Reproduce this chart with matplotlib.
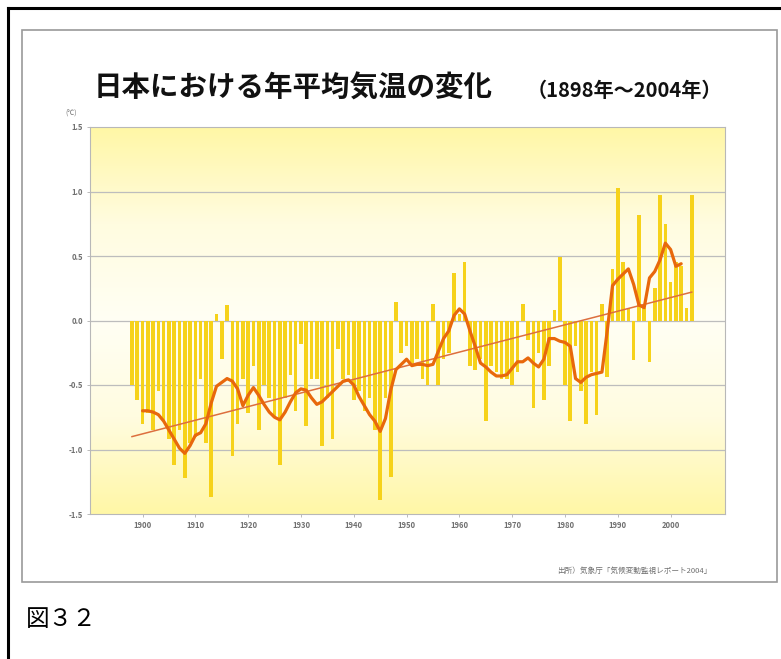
import numpy as np
import matplotlib.pyplot as plt
from matplotlib.colors import LinearSegmentedColormap
from matplotlib.patches import Rectangle
from matplotlib.lines import Line2D

plt.rcParams['font.family'] = ['Noto Sans CJK JP', 'DejaVu Sans']

# 年平均気温偏差 (℃) 1898-2004
years = np.arange(1898, 2005)
anomaly = [
    -0.50, -0.62,                                                      # 1898-1899
    -0.80, -0.72, -0.85, -0.55, -0.78, -0.92, -1.12, -0.85, -1.22, -0.95,  # 1900-
    -0.90, -0.45, -0.95, -1.37, 0.05, -0.30, 0.12, -1.05, -0.80, -0.45,    # 1910-
    -0.72, -0.35, -0.85, -0.50, -0.60, -0.75, -1.12, -0.60, -0.42, -0.70,  # 1920-
    -0.18, -0.82, -0.45, -0.45, -0.97, -0.60, -0.92, -0.22, -0.45, -0.42,  # 1930-
    -0.62, -0.55, -0.70, -0.60, -0.85, -1.39, -0.60, -1.21, 0.14, -0.25,   # 1940-
    -0.20, -0.35, -0.30, -0.45, -0.50, 0.13, -0.50, -0.30, -0.25, 0.37,    # 1950-
    0.05, 0.45, -0.35, -0.38, -0.30, -0.78, -0.35, -0.40, -0.45, -0.45,    # 1960-
    -0.50, -0.40, 0.13, -0.15, -0.68, -0.25, -0.62, -0.35, 0.08, 0.49,     # 1970-
    -0.50, -0.78, -0.20, -0.55, -0.80, -0.40, -0.73, 0.13, -0.44, 0.40,    # 1980-
    1.03, 0.45, 0.10, -0.31, 0.82, 0.10, -0.32, 0.25, 0.97, 0.75,          # 1990-
    0.30, 0.45, 0.42, 0.10, 0.97,                                          # 2000-2004
]

# 5年移動平均 1900-2002
smooth_years = np.arange(1900, 2003)
smooth = [
    -0.70, -0.70, -0.71, -0.73, -0.78, -0.85, -0.92, -0.99, -1.03, -0.97,  # 1900-
    -0.89, -0.87, -0.80, -0.64, -0.51, -0.48, -0.45, -0.47, -0.53, -0.66,  # 1910-
    -0.58, -0.52, -0.58, -0.65, -0.71, -0.75, -0.77, -0.71, -0.63, -0.56,  # 1920-
    -0.53, -0.54, -0.60, -0.65, -0.63, -0.59, -0.55, -0.51, -0.47, -0.46,  # 1930-
    -0.50, -0.59, -0.66, -0.73, -0.78, -0.86, -0.76, -0.54, -0.38, -0.34,  # 1940-
    -0.30, -0.35, -0.34, -0.34, -0.35, -0.34, -0.24, -0.14, -0.08, 0.04,   # 1950-
    0.09, 0.05, -0.08, -0.20, -0.33, -0.36, -0.40, -0.43, -0.43, -0.42,    # 1960-
    -0.37, -0.32, -0.32, -0.29, -0.33, -0.36, -0.30, -0.14, -0.14, -0.16,  # 1970-
    -0.17, -0.20, -0.45, -0.48, -0.44, -0.42, -0.41, -0.40, -0.08, 0.27,   # 1980-
    0.32, 0.36, 0.40, 0.28, 0.12, 0.10, 0.33, 0.38, 0.47, 0.60,            # 1990-
    0.55, 0.42, 0.44,                                                      # 2000-2002
]

# 長期変化傾向
trend_years = [1898, 2004]
trend_vals = [-0.90, 0.22]

yticks = [-1.5, -1.0, -0.5, 0.0, 0.5, 1.0, 1.5]
xticks = [1900, 1910, 1920, 1930, 1940, 1950, 1960, 1970, 1980, 1990, 2000]

W, H = 781, 659
fig = plt.figure(figsize=(W / 100, H / 100), dpi=100)


def fx(x):
    return x / W


def fy(y):
    return 1 - y / H


# 外枠と画像枠
fig.add_artist(Line2D([fx(8), 1], [fy(8), fy(8)], color='black', lw=2.2))
fig.add_artist(Line2D([fx(8), fx(8)], [fy(8), 0], color='black', lw=2.2))
fig.add_artist(Rectangle((fx(22), fy(582)), fx(777) - fx(22), fy(30) - fy(582),
                         fill=False, ec='#9a9a9a', lw=1.2))

ax = fig.add_axes([fx(90), fy(514), fx(725) - fx(90), fy(127) - fy(514)])
xlim = (1890.05, 2010.3)
ylim = (-1.5, 1.5)

# 背景のグラデーション
cmap = LinearSegmentedColormap.from_list('bg', ['#fff7a6', '#fffce0', '#fffff4', '#fffce0', '#fff7a6'])
grad = np.linspace(0, 1, 256).reshape(-1, 1)
ax.imshow(grad, extent=[xlim[0], xlim[1], ylim[0], ylim[1]], aspect='auto', cmap=cmap, zorder=0)

for v in [-1.0, -0.5, 0.0, 0.5, 1.0]:
    ax.axhline(v, color='#bdbdbd', lw=0.9, zorder=1)

ax.bar(years, anomaly, width=0.68, color='#f6d21a', zorder=2)
ax.plot(trend_years, trend_vals, color='#dd6f3e', lw=1.1, zorder=3)
ax.plot(smooth_years, smooth, color='#e8680c', lw=2.3, zorder=4,
        solid_joinstyle='round', solid_capstyle='round')

ax.set_xlim(xlim)
ax.set_ylim(ylim)
ax.set_yticks(yticks)
ax.set_yticklabels(['%.1f' % v for v in yticks])
ax.set_xticks(xticks)
ax.set_xticklabels([str(v) for v in xticks])
ax.tick_params(axis='both', length=2, width=0.6, color='#b0b0b0', labelsize=5.5,
               labelcolor='#707070', pad=3)
for t in ax.get_xticklabels() + ax.get_yticklabels():
    t.set_fontweight('bold')
for s in ax.spines.values():
    s.set_color('#b8b8b8')
    s.set_linewidth(0.8)

fig.text(fx(94), fy(89), '日本における年平均気温の変化', fontsize=20.5, fontweight='bold',
         color='#111111', va='center', ha='left')
fig.text(fx(527), fy(90), '（1898年～2004年）', fontsize=14.5, fontweight='bold',
         color='#111111', va='center', ha='left')
fig.text(fx(71), fy(114), '(℃)', fontsize=5, color='#707070', ha='center', va='center')
fig.text(fx(712), fy(571), '出所）気象庁「気候変動監視レポート2004」', fontsize=5.5,
         color='#707070', ha='right', va='center')
fig.text(fx(26), fy(620), '図３２', fontsize=17, color='black', ha='left', va='center')

fig.savefig('out.png', dpi=100)
